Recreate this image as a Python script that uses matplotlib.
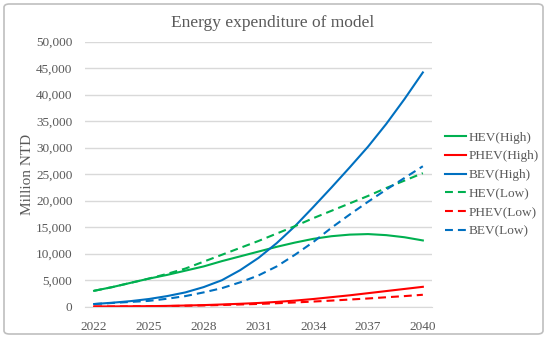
import matplotlib
matplotlib.use("Agg")
import matplotlib.pyplot as plt
from matplotlib.patches import FancyBboxPatch
from matplotlib.ticker import FuncFormatter

plt.rcParams["font.family"] = ["Liberation Serif", "DejaVu Serif"]

years = list(range(2022, 2041))
hev_high = [3000, 3700, 4500, 5300, 6000, 6800, 7600, 8600, 9500, 10400,
            11300, 12100, 12800, 13300, 13600, 13700, 13500, 13100, 12500]
phev_high = [50, 50, 80, 100, 150, 220, 300, 420, 550, 700,
             900, 1150, 1450, 1800, 2150, 2550, 2950, 3350, 3750]
bev_high = [500, 750, 1050, 1450, 2000, 2700, 3700, 5000, 6900, 9200,
            12000, 15200, 18800, 22500, 26300, 30200, 34500, 39200, 44200]
hev_low = [3000, 3700, 4500, 5300, 6200, 7200, 8500, 9800, 11100, 12400,
           13800, 15200, 16700, 18100, 19500, 20900, 22400, 23800, 25200]
phev_low = [20, 30, 50, 80, 120, 170, 240, 320, 420, 520,
            650, 800, 970, 1150, 1350, 1550, 1780, 2000, 2250]
bev_low = [500, 700, 900, 1100, 1500, 2000, 2700, 3500, 4600, 5900,
           7600, 9800, 12200, 14900, 17400, 19800, 22100, 24300, 26500]
tick_years = [2022, 2025, 2028, 2031, 2034, 2037, 2040]

GREEN, RED, BLUE = "#00B050", "#FF0000", "#0070C0"
TXT = "#595959"
GRID = "#D9D9D9"

fig = plt.figure(figsize=(5.5, 3.39), dpi=100)
fig.patches.append(FancyBboxPatch((4 / 550, 5 / 339), 539 / 550, 330 / 339,
                                  boxstyle="round,pad=0,rounding_size=0.01",
                                  transform=fig.transFigure, fill=False,
                                  edgecolor="#BFBFBF", linewidth=1.2))

ax = fig.add_axes([0.1545, 0.0953, 0.6309, 0.7817])
dash = (0, (3.8, 2.4))
ax.plot(years, hev_high, color=GREEN, lw=1.5, label="HEV(High)")
ax.plot(years, phev_high, color=RED, lw=1.5, label="PHEV(High)")
ax.plot(years, bev_high, color=BLUE, lw=1.5, label="BEV(High)")
ax.plot(years, hev_low, color=GREEN, lw=1.5, ls=dash, label="HEV(Low)")
ax.plot(years, phev_low, color=RED, lw=1.5, ls=dash, label="PHEV(Low)")
ax.plot(years, bev_low, color=BLUE, lw=1.5, ls=dash, label="BEV(Low)")

ax.set_xlim(2021.5, 2040.5)
ax.set_ylim(0, 50000)
ax.set_xticks(tick_years)
ax.set_yticks(range(0, 50001, 5000))
ax.yaxis.set_major_formatter(FuncFormatter(lambda v, p: f"{int(v):,}"))
ax.grid(axis="y", color=GRID, lw=1)
ax.set_axisbelow(True)
for s in ["top", "right", "left"]:
    ax.spines[s].set_visible(False)
ax.spines["bottom"].set_color(GRID)
ax.tick_params(length=0, labelsize=9.5, colors=TXT)
ax.tick_params(axis="y", pad=9)
ax.tick_params(axis="x", pad=10)
ax.set_ylabel("Million NTD", fontsize=11, color=TXT)
ax.yaxis.set_label_coords(-0.148, 0.5)

fig.text(0.496, 0.933, "Energy expenditure of model", ha="center", va="center",
         fontsize=12.5, color=TXT)

fig.legend(loc="upper left", bbox_to_anchor=(440 / 550, (339 - 126) / 339),
           frameon=False, fontsize=9.5, labelcolor=TXT, handlelength=1.6,
           handletextpad=0.15, labelspacing=0.5, borderaxespad=0)

plt.savefig("out.png", dpi=100)
plt.close()
